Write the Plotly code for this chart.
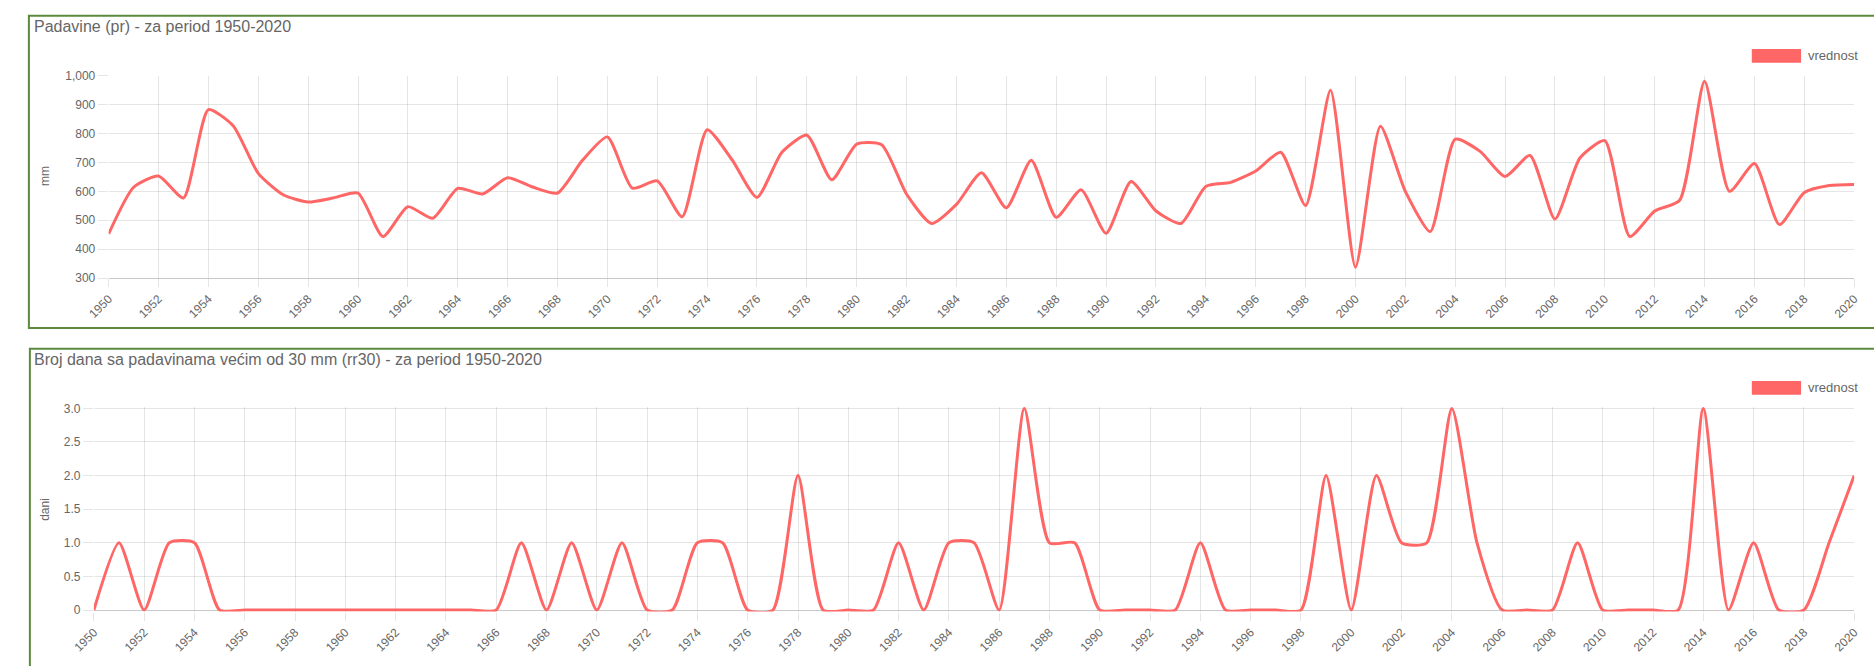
import plotly.graph_objects as go

# ---------------- data ----------------
years = list(range(1950, 2021))

precip_mm = [453, 614, 653, 577, 882, 826, 662, 588, 563, 577,
             594, 444, 547, 507, 610, 591, 647, 615, 594, 707,
             788, 611, 636, 512, 813, 709, 579, 735, 794, 640,
             763, 761, 590, 489, 555, 664, 543, 707, 510, 605,
             455, 634, 532, 489, 617, 631, 670, 735, 551, 949,
             338, 825, 600, 461, 780, 738, 651, 724, 504, 715,
             775, 444, 532, 569, 980, 600, 696, 485, 596, 620, 624]

rr30_days = [0, 1, 0, 1, 1, 0, 0, 0, 0, 0,
             0, 0, 0, 0, 0, 0, 0, 1, 0, 1,
             0, 1, 0, 0, 1, 1, 0, 0, 2, 0,
             0, 0, 1, 0, 1, 1, 0, 3, 1, 1,
             0, 0, 0, 0, 1, 0, 0, 0, 0, 2,
             0, 2, 1, 1, 3, 1, 0, 0, 0, 1,
             0, 0, 0, 0, 3, 0, 1, 0, 0, 1, 2]

title_top = "Padavine (pr) - za period 1950-2020"
title_bottom = "Broj dana sa padavinama većim od 30 mm (rr30) - za period 1950-2020"
series_name = "vrednost"
ytitle_top = "mm"
ytitle_bottom = "dani"
bottom_ticks = [0, 0.5, 1.0, 1.5, 2.0, 2.5, 3.0]
bottom_ticktext = ["0", "0.5", "1.0", "1.5", "2.0", "2.5", "3.0"]

# ---------------- style ----------------
W, H = 1874, 666
LINE = "#ff6666"
GRID = "rgba(0,0,0,0.1)"
AXIS = "#c8c8c8"
TXT = "#666666"
FONT = "Liberation Sans, Arial, Helvetica, sans-serif"
BORDER = "#5b8a3c"
SMOOTH = 0.6


def px(p):
    return p / W


def py(p):
    return 1 - p / H


fig = go.Figure()

fig.add_trace(go.Scatter(x=years, y=precip_mm, mode="lines", name=series_name,
                         line=dict(color=LINE, width=3, shape="spline", smoothing=SMOOTH),
                         xaxis="x", yaxis="y", showlegend=False))
fig.add_trace(go.Scatter(x=years, y=rr30_days, mode="lines", name=series_name,
                         line=dict(color=LINE, width=3, shape="spline", smoothing=SMOOTH),
                         xaxis="x2", yaxis="y2", showlegend=False))

# bottom chart: pad range slightly so the line lying on 0 / 3 is not half clipped
pad_px = 1.6
pad_units = pad_px * 3.0 / 206.0

common_x = dict(range=[1950, 2020], tick0=1950, dtick=2, tickangle=-45,
                showgrid=True, gridcolor=GRID, gridwidth=1,
                ticks="outside", ticklen=8, tickcolor=GRID,
                tickfont=dict(family=FONT, size=12, color=TXT),
                zeroline=False, fixedrange=True)
common_y = dict(showgrid=True, gridcolor=GRID, gridwidth=1,
                ticks="outside", ticklen=10, tickcolor=GRID,
                tickfont=dict(family=FONT, size=12, color=TXT),
                fixedrange=True)

fig.update_layout(
    width=W, height=H, autosize=False,
    margin=dict(l=0, r=0, t=0, b=0),
    paper_bgcolor="white", plot_bgcolor="white",
    showlegend=False,
    font=dict(family=FONT, color=TXT),
    xaxis=dict(domain=[px(88), px(1861)], anchor="y",
               showline=True, linecolor=AXIS, linewidth=1, **common_x),
    yaxis=dict(domain=[py(277), py(70)], anchor="x", range=[300, 1000],
               dtick=100, tickformat=",", zeroline=False, **common_y),
    xaxis2=dict(domain=[px(73), px(1861)], anchor="y2",
                showline=False, **common_x),
    yaxis2=dict(domain=[py(616 + pad_px), py(410 - pad_px)], anchor="x2",
                range=[-pad_units, 3 + pad_units],
                tickvals=bottom_ticks, ticktext=bottom_ticktext,
                zeroline=True, zerolinecolor=AXIS, zerolinewidth=1, **common_y),
)

shapes = [
    # panel borders
    dict(type="rect", xref="paper", yref="paper", x0=px(7), x1=px(1890),
         y0=py(328), y1=py(9), line=dict(color=BORDER, width=2), layer="above"),
    dict(type="rect", xref="paper", yref="paper", x0=px(8), x1=px(1890),
         y0=py(700), y1=py(349), line=dict(color=BORDER, width=2), layer="above"),
    # legend boxes
    dict(type="rect", xref="paper", yref="paper", x0=px(1757), x1=px(1807),
         y0=py(57), y1=py(43), fillcolor=LINE, line=dict(width=0)),
    dict(type="rect", xref="paper", yref="paper", x0=px(1757), x1=px(1807),
         y0=py(396), y1=py(382), fillcolor=LINE, line=dict(width=0)),
]

annotations = [
    dict(text=title_top, x=px(10), y=py(19.5), xref="paper", yref="paper",
         xanchor="left", yanchor="middle", showarrow=False,
         font=dict(family=FONT, size=16, color=TXT)),
    dict(text=title_bottom, x=px(10), y=py(360), xref="paper", yref="paper",
         xanchor="left", yanchor="middle", showarrow=False,
         font=dict(family=FONT, size=16, color=TXT)),
    dict(text=series_name, x=px(1812), y=py(50), xref="paper", yref="paper",
         xanchor="left", yanchor="middle", showarrow=False,
         font=dict(family=FONT, size=13, color=TXT)),
    dict(text=series_name, x=px(1812), y=py(389), xref="paper", yref="paper",
         xanchor="left", yanchor="middle", showarrow=False,
         font=dict(family=FONT, size=13, color=TXT)),
    dict(text=ytitle_top, x=px(24), y=py(173), xref="paper", yref="paper",
         xanchor="center", yanchor="middle", textangle=-90, showarrow=False,
         font=dict(family=FONT, size=12, color=TXT)),
    dict(text=ytitle_bottom, x=px(24), y=py(513), xref="paper", yref="paper",
         xanchor="center", yanchor="middle", textangle=-90, showarrow=False,
         font=dict(family=FONT, size=12, color=TXT)),
]

fig.update_layout(shapes=shapes, annotations=annotations)

fig.write_html("out.html", config={"displayModeBar": False, "responsive": False},
               post_script="document.body.style.margin='0';document.body.style.overflow='hidden';")
